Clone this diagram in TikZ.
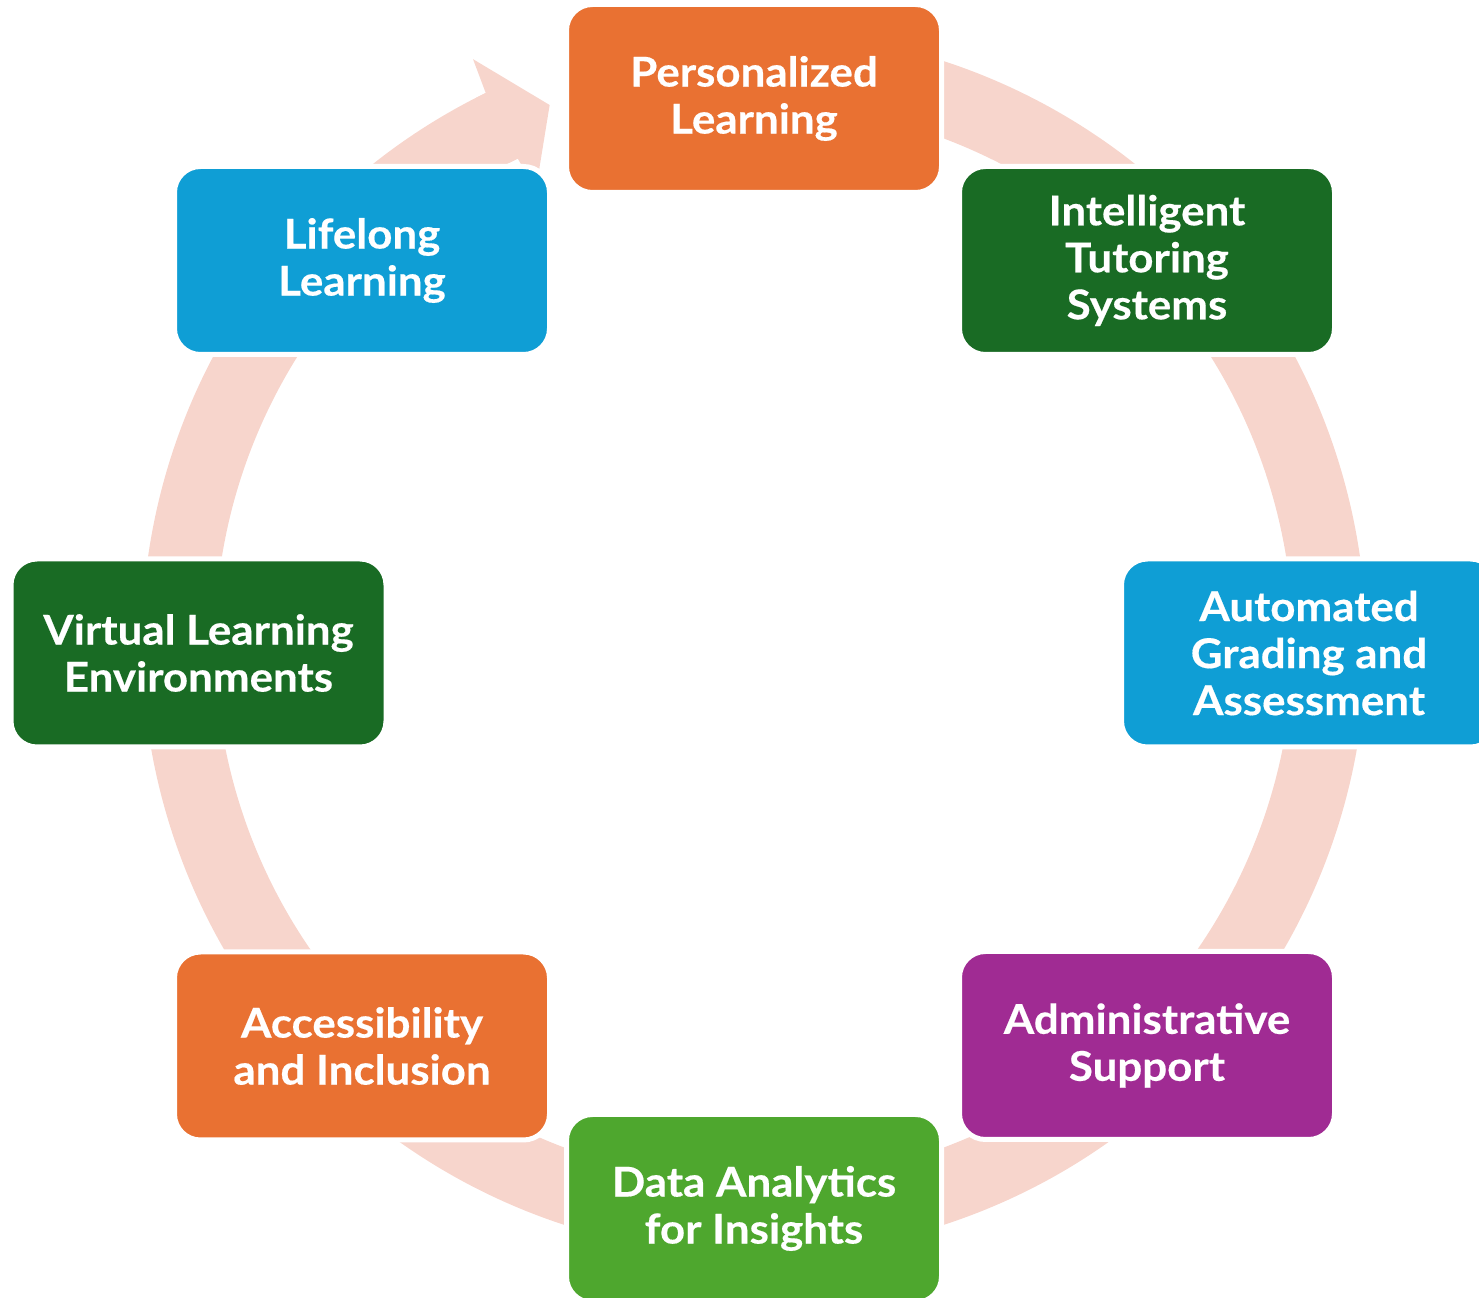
\documentclass[tikz,border=0pt]{standalone}
\usepackage{fontspec}
\setmainfont{Lato}[BoldFeatures={FakeStretch=1.07,FakeBold=0.4}]
\definecolor{orangeA}{HTML}{E97132}
\definecolor{greenD}{HTML}{196B24}
\definecolor{blueA}{HTML}{0F9ED5}
\definecolor{purpleA}{HTML}{A02B93}
\definecolor{greenL}{HTML}{4EA72E}
\definecolor{ringc}{HTML}{F7D5CC}
\tikzset{
  box/.style={draw=white, line width=2.5pt, rounded corners=13pt,
    minimum width=187.5pt, minimum height=94pt, inner sep=0pt,
    text=white, align=center,
    font=\bfseries\fontsize{20.5}{23.5}\selectfont},
  ringline/.style={draw=ringc, line width=36.5pt}
}
\begin{document}
\begin{tikzpicture}[x=0.5pt,y=0.5pt]
\useasboundingbox (0,0) rectangle (1479,1297);
\clip (0,0) rectangle (1479,1297);
\coordinate (C) at (754,654);
% cycle ring
\draw[ringline] ([shift={(108:575.5)}]C) arc[start angle=108, end angle=-244, radius=575.5];
\fill[ringc] ([shift={(110.8:575.5)}]C) -- ([shift={(115.7:648)}]C) -- ([shift={(116:612)}]C)
  -- ([shift={(117:612)}]C) -- ([shift={(117:539)}]C) -- ([shift={(116:539)}]C)
  -- ([shift={(115.7:503)}]C) -- cycle;
% boxes
\node[box, fill=orangeA] (p)   at (754,1198.5) {Personalized\\Learning};
\node[box, fill=greenD]  (its) at (1147,1036.5) {Intelligent\\Tutoring\\Systems};
\node[box, fill=blueA]   (aga) at (1309,644) {Automated\\Grading and\\Assessment};
\node[box, fill=purpleA] (as)  at (1147,251.5) {Administrative\\Support};
\node[box, fill=greenL]  (da)  at (754,88.5) {Data Analytics\\for Insights};
\node[box, fill=orangeA] (ai)  at (362,251) {Accessibility\\and Inclusion};
\node[box, fill=greenD]  (vle) at (198.5,644) {Virtual Learning\\Environments};
\node[box, fill=blueA]   (ll)  at (362,1036.5) {Lifelong\\Learning};
\end{tikzpicture}
\end{document}
